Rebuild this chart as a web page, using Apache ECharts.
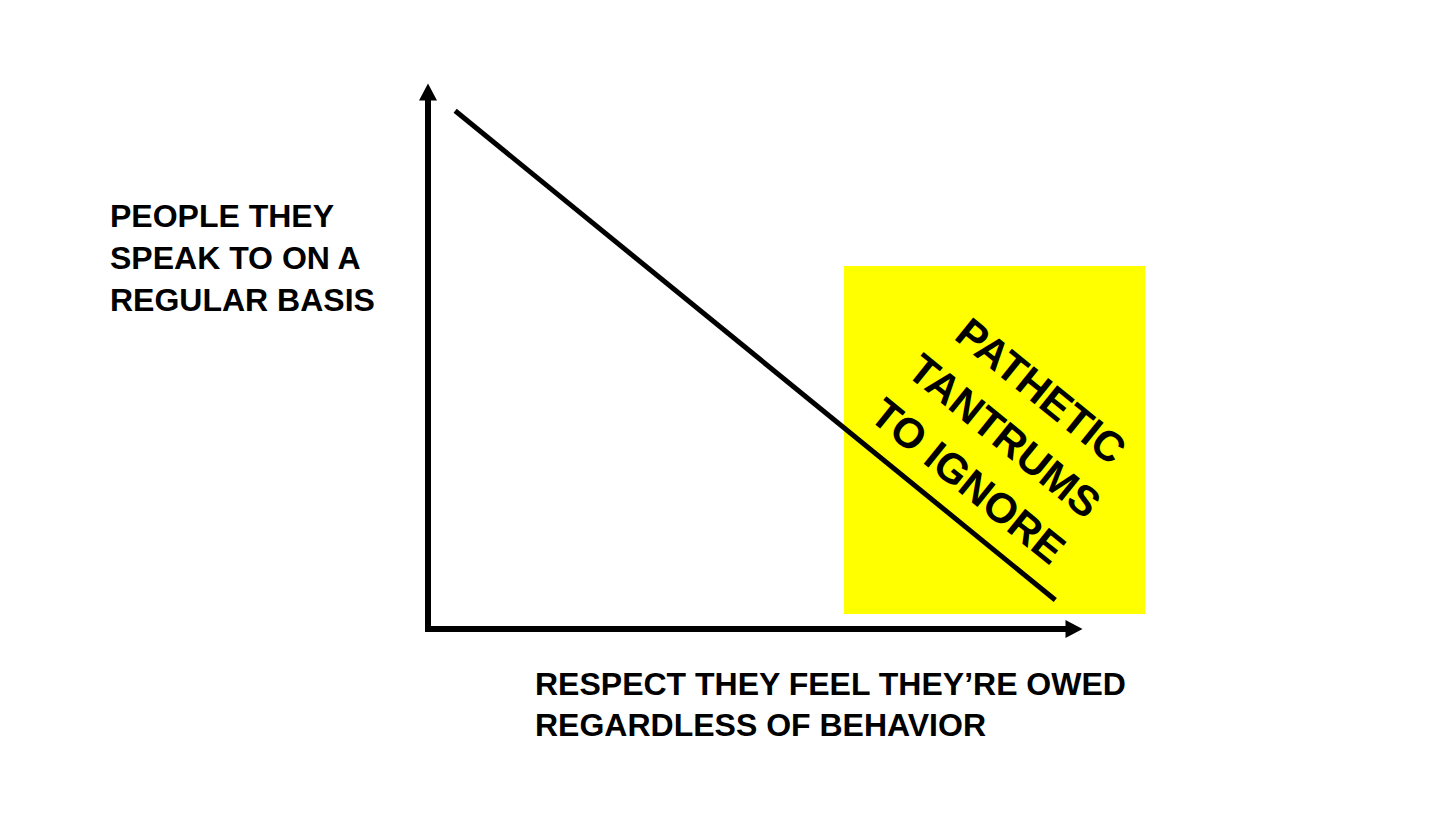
<!DOCTYPE html>
<html>
<head>
<meta charset="utf-8">
<script src="https://cdn.jsdelivr.net/npm/echarts@6/dist/echarts.min.js"></script>
<style>
  html, body { margin: 0; padding: 0; background: #ffffff; }
  #chart { width: 1456px; height: 819px; }
</style>
</head>
<body>
<div id="chart"></div>
<script>
// ---- data ----
const axisRange = [0, 100];
const trendX = [4.2, 97.1];
const trendY = [96.5, 5.4];
const zoneX = [64.4, 111];
const zoneY = [2.8, 67.6];
const zoneLabel = ['PATHETIC', 'TANTRUMS', 'TO IGNORE'];
const yAxisTitle = ['PEOPLE THEY', 'SPEAK TO ON A', 'REGULAR BASIS'];
const xAxisTitle = ['RESPECT THEY FEEL THEY\u2019RE OWED', 'REGARDLESS OF BEHAVIOR'];

const FONT = '"Liberation Sans", Arial, Helvetica, sans-serif';
const chart = echarts.init(document.getElementById('chart'), null, { renderer: 'svg' });

const axisCommon = {
  type: 'value',
  min: axisRange[0],
  max: axisRange[1],
  axisLine: {
    show: true,
    onZero: false,
    symbol: ['none', 'triangle'],
    symbolSize: [18, 17],
    lineStyle: { color: '#000', width: 6, cap: 'square' }
  },
  axisTick: { show: false },
  axisLabel: { show: false },
  splitLine: { show: false }
};

chart.setOption({
  backgroundColor: '#ffffff',
  animation: false,
  grid: { left: 428, right: 382, top: 92, bottom: 190 },
  xAxis: axisCommon,
  yAxis: axisCommon,
  graphic: [
    {
      type: 'text', left: 110, top: 195,
      style: { text: yAxisTitle.join('\n'), font: 'bold 32px ' + FONT, lineHeight: 42, fill: '#000' }
    },
    {
      type: 'text', left: 535, top: 663,
      style: { text: xAxisTitle.join('\n'), font: 'bold 32px ' + FONT, lineHeight: 41, fill: '#000' }
    }
  ],
  series: [
    {
      type: 'custom',
      z: 1,
      clip: false,
      data: [[zoneX[0], zoneX[1], zoneY[0], zoneY[1]]],
      renderItem: function (params, api) {
        const p0 = api.coord([api.value(0), api.value(3)]);
        const p1 = api.coord([api.value(1), api.value(2)]);
        const cx = (p0[0] + p1[0]) / 2;
        const cy = (p0[1] + p1[1]) / 2;
        return {
          type: 'group',
          children: [
            { type: 'rect', shape: { x: p0[0], y: p0[1], width: p1[0] - p0[0], height: p1[1] - p0[1] },
              style: { fill: '#FFFF00' } },
            { type: 'text', x: cx + 10, y: cy - 4, rotation: -39 * Math.PI / 180,
              style: { text: zoneLabel.join('\n'), font: 'bold 42px ' + FONT, lineHeight: 58,
                       align: 'center', verticalAlign: 'middle', fill: '#000' } }
          ]
        };
      }
    },
    {
      type: 'line',
      z: 3,
      symbol: 'none',
      clip: false,
      data: trendX.map(function (x, i) { return [x, trendY[i]]; }),
      lineStyle: { color: '#000', width: 5 }
    }
  ]
});
</script>
</body>
</html>
